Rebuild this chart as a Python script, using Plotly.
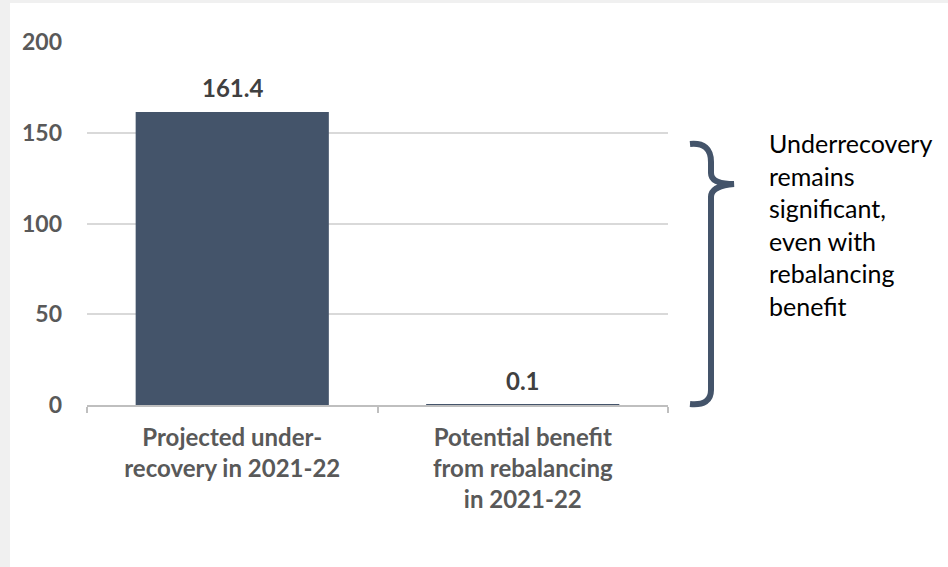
import plotly.graph_objects as go

categories = ["Projected under-<br>recovery in 2021-22", "Potential benefit<br>from rebalancing<br>in 2021-22"]
values = [161.4, 0.1]
value_labels = ["161.4", "0.1"]
y_ticks = [0, 50, 100, 150, 200]
note_text = "Underrecovery<br>remains<br>significant,<br>even with<br>rebalancing<br>benefit"

W, H = 948, 567
ML, MR, MT, MB = 87, 280, 42, 162
PW, PH = W - ML - MR, H - MT - MB

def px(x):
    return (x - ML) / PW

def py(y):
    return 1 - (y - MT) / PH

FONT = "Lato, 'Open Sans', sans-serif"

fig = go.Figure()
fig.add_trace(go.Bar(
    x=categories, y=values,
    marker=dict(color="#44546A", line=dict(width=0)),
    width=0.665, hoverinfo="skip",
))

label_annotations = [
    dict(x=c, y=v, text=t, xref="x", yref="y", showarrow=False,
         yanchor="bottom", yshift=8,
         font=dict(family=FONT, size=24, color="#404040", weight="bold"))
    for c, v, t in zip(categories, values, value_labels)
]

brace = [(690, 144), (711, 142), (711, 162), (711, 173), (711, 184), (734, 184),
         (711, 186), (711, 197), (711, 390), (711, 406), (690, 404)]
p = [(px(x), py(y)) for x, y in brace]
path = (f"M {p[0][0]},{p[0][1]} Q {p[1][0]},{p[1][1]} {p[2][0]},{p[2][1]} "
        f"L {p[3][0]},{p[3][1]} Q {p[4][0]},{p[4][1]} {p[5][0]},{p[5][1]} "
        f"Q {p[6][0]},{p[6][1]} {p[7][0]},{p[7][1]} "
        f"L {p[8][0]},{p[8][1]} Q {p[9][0]},{p[9][1]} {p[10][0]},{p[10][1]}")

fig.update_layout(
    width=W, height=H,
    margin=dict(l=ML, r=MR, t=MT, b=MB),
    paper_bgcolor="#f0f0f0", plot_bgcolor="rgba(0,0,0,0)",
    showlegend=False,
    font=dict(family=FONT),
    shapes=[
        dict(type="rect", xref="paper", yref="paper", layer="below",
             x0=px(10), x1=px(W + 5), y0=py(H + 5), y1=py(3),
             fillcolor="white", line=dict(width=0)),
        dict(type="path", xref="paper", yref="paper", path=path,
             line=dict(color="#44546A", width=6)),
    ],
    annotations=label_annotations + [
        dict(text=note_text, xref="paper", yref="paper", x=px(767), y=py(126),
             xanchor="left", yanchor="top", align="left", showarrow=False,
             font=dict(family=FONT, size=25, color="#000000")),
    ],
    yaxis=dict(range=[0, 200], tickvals=y_ticks, showgrid=True,
               gridcolor="#d9d9d9", gridwidth=1.5, zeroline=False,
               showline=False, ticks="", ticklabelstandoff=24,
               tickfont=dict(family=FONT, size=23, color="#595959", weight="bold")),
    xaxis=dict(showline=True, linecolor="#bfbfbf", linewidth=1.5,
               ticks="outside", tickson="boundaries", ticklen=6,
               tickcolor="#bfbfbf", tickwidth=1.5, ticklabelstandoff=10,
               tickfont=dict(family=FONT, size=24, color="#595959", weight="bold")),
    bargap=0.335,
)

fig.write_html("out.html", config={"displayModeBar": False},
               post_script="document.body.style.margin='0';")
